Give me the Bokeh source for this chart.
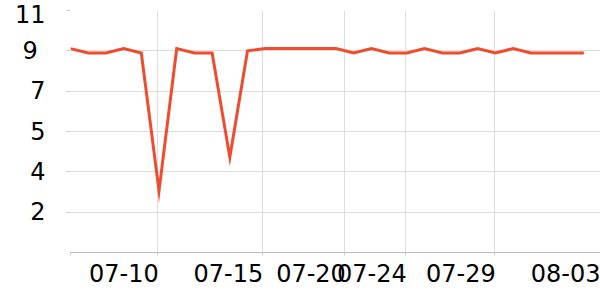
from bokeh.plotting import figure
from bokeh.models import Range1d, FixedTicker, LinearAxis
from bokeh.embed import file_html
from bokeh.resources import INLINE

# ---- data ----
values = [9.1, 8.9, 8.9, 9.1, 8.9, 2.75, 9.1, 8.9, 8.9, 4.25,
          9.0, 9.1, 9.1, 9.1, 9.1, 9.1, 8.9, 9.1, 8.9, 8.9,
          9.1, 8.9, 8.9, 9.1, 8.9, 9.1, 8.9, 8.9, 8.9, 8.9]
x_idx = list(range(len(values)))

x_tick_labels = ["07-10", "07-15", "07-20", "07-24", "07-29", "08-03"]
x_label_right = [4.93, 10.83, 15.50, 18.94, 23.97, 29.92]   # label right edges (index units)
x_grid_ticks = [0, 4.93, 10.83, 15.50, 18.94, 23.97]

y_ticks = [1.8, 3.6, 5.4, 7.2, 9.0, 10.8]
y_tick_labels = ["2", "4", "5", "7", "9\u00a0", "11"]

# ---- figure ----
W, H = 600, 300
LEFT, RIGHT, TOP, BOTTOM = 70, 0, 10, 48
X_END = 29.94
FONT_PX = 24
FONT = "DejaVu Sans"

p = figure(width=W, height=H, output_backend="svg", toolbar_location=None,
           x_range=Range1d(0, X_END), y_range=Range1d(0, 10.8),
           min_border_left=LEFT, min_border_right=RIGHT,
           min_border_top=TOP, min_border_bottom=BOTTOM)
p.outline_line_color = None
p.background_fill_color = "white"

p.line(x_idx, values, line_color="#f04b2d", line_width=3, line_join="miter")

# grids
p.xgrid.ticker = FixedTicker(ticks=x_grid_ticks)
p.ygrid.ticker = FixedTicker(ticks=y_ticks)
for g in (p.xgrid, p.ygrid):
    g.grid_line_color = "#dddddd"
    g.grid_line_width = 1

# y axis
ya = p.yaxis[0]
ya.ticker = FixedTicker(ticks=y_ticks)
ya.major_label_overrides = dict(zip(y_ticks, y_tick_labels))
ya.axis_line_color = None
ya.major_tick_line_color = "#cccccc"
ya.major_tick_out = 4
ya.major_tick_in = 0
ya.minor_tick_line_color = None
ya.major_label_standoff = 21
ya.major_label_text_font = FONT
ya.major_label_text_font_size = f"{FONT_PX}px"
ya.major_label_text_color = "#000000"

# x axis (ticks only)
xa = p.xaxis[0]
xa.ticker = FixedTicker(ticks=x_grid_ticks)
xa.major_label_overrides = {t: "" for t in x_grid_ticks}
xa.major_label_text_font_size = "0px"
xa.major_label_standoff = 0
xa.axis_line_color = "#bbbbbb"
xa.major_tick_line_color = "#cccccc"
xa.major_tick_out = 3
xa.major_tick_in = 0
xa.minor_tick_line_color = None

# x label axis (labels right-aligned to their ticks)
px_per_unit = (W - LEFT - RIGHT) / X_END
half_w = 2.905 * FONT_PX / 2 / px_per_unit
label_centers = [r + 1.0 / px_per_unit - half_w for r in x_label_right]
la = LinearAxis(ticker=FixedTicker(ticks=label_centers))
la.major_label_overrides = dict(zip(label_centers, x_tick_labels))
la.axis_line_color = None
la.major_tick_line_color = None
la.minor_tick_line_color = None
la.major_tick_out = 0
la.major_tick_in = 0
la.major_label_standoff = 8
la.major_label_text_font = FONT
la.major_label_text_font_size = f"{FONT_PX}px"
la.major_label_text_color = "#000000"
p.add_layout(la, "below")

open("out.html", "w").write(file_html(p, INLINE))
